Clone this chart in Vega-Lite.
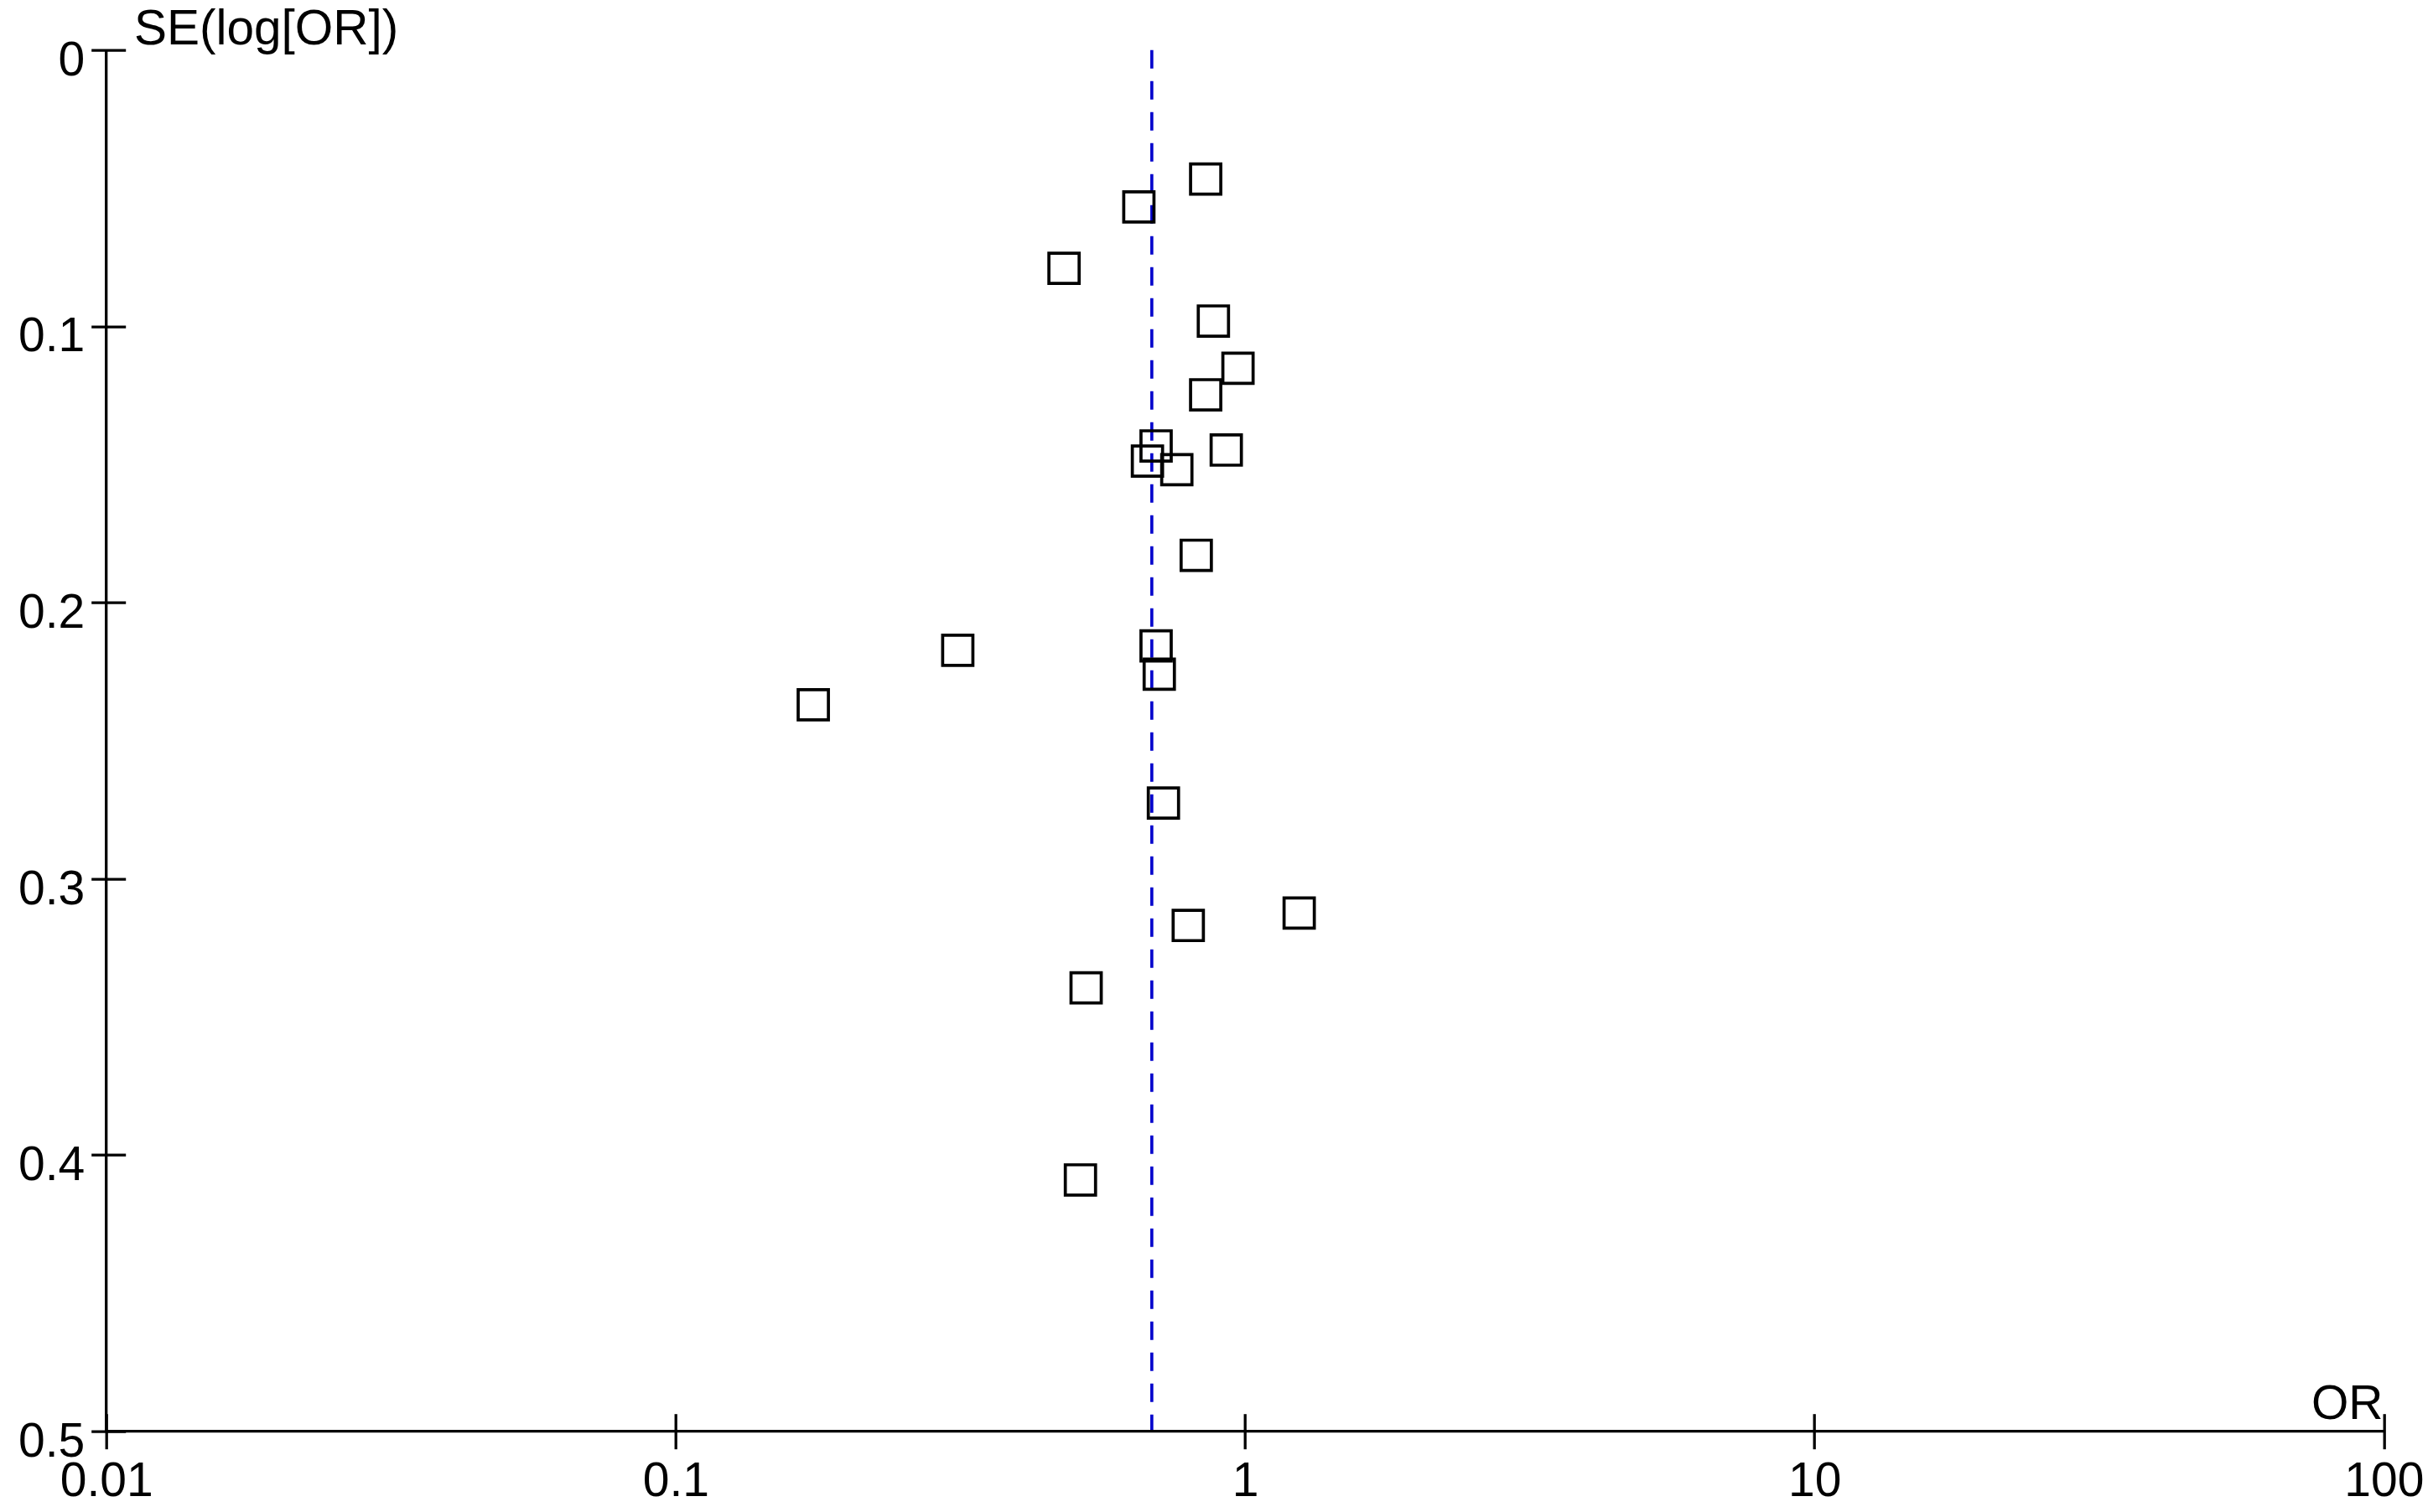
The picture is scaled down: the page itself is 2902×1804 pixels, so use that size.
{
  "$schema": "https://vega.github.io/schema/vega-lite/v6.json",
  "width": 2716.6,
  "height": 1648,
  "autosize": {"type": "none"},
  "padding": {"left": 126.7, "top": 59.7, "right": 58.7, "bottom": 96.3},
  "background": "white",
  "config": {"view": {"stroke": null}, "font": "Liberation Sans"},
  "datasets": {
    "studies": [
      {"OR": 0.853, "SE": 0.0467},
      {"OR": 0.651, "SE": 0.0568},
      {"OR": 0.481, "SE": 0.0790},
      {"OR": 0.880, "SE": 0.0981},
      {"OR": 0.972, "SE": 0.1152},
      {"OR": 0.853, "SE": 0.1248},
      {"OR": 0.698, "SE": 0.1433},
      {"OR": 0.674, "SE": 0.1488},
      {"OR": 0.759, "SE": 0.1519},
      {"OR": 0.927, "SE": 0.1448},
      {"OR": 0.821, "SE": 0.1829},
      {"OR": 0.313, "SE": 0.2173},
      {"OR": 0.698, "SE": 0.2157},
      {"OR": 0.707, "SE": 0.2259},
      {"OR": 0.1745, "SE": 0.2370},
      {"OR": 0.719, "SE": 0.2726},
      {"OR": 1.245, "SE": 0.3124},
      {"OR": 0.795, "SE": 0.3169},
      {"OR": 0.526, "SE": 0.3395},
      {"OR": 0.514, "SE": 0.4090}
    ],
    "pooled": [{"OR": 0.686}]
  },
  "layer": [
    {
      "data": {"name": "pooled"},
      "mark": {"type": "rule", "color": "#0000CC", "strokeWidth": 3.6, "strokeDash": [22, 15]},
      "encoding": {
        "x": {"field": "OR", "type": "quantitative", "scale": {"type": "log", "domain": [0.01, 100], "nice": false}}
      }
    },
    {
      "data": {"name": "studies"},
      "mark": {"type": "point", "shape": "square", "filled": false, "color": "black", "strokeWidth": 3.7, "size": 1300, "opacity": 1},
      "encoding": {
        "x": {
          "field": "OR", "type": "quantitative",
          "scale": {"type": "log", "domain": [0.01, 100], "nice": false},
          "axis": {
            "values": [0.01, 0.1, 1, 10, 100], "format": "~g",
            "offset": -21, "tickSize": 42, "tickWidth": 3.3, "tickColor": "black",
            "domain": false, "grid": false,
            "labelFontSize": 57, "labelColor": "black", "labelPadding": 10.3, "labelFont": "Liberation Sans",
            "labelFlush": false, "labelOverlap": false,
            "title": "OR", "titleFontSize": 57, "titleFontWeight": "normal", "titleColor": "black", "titleFont": "Liberation Sans",
            "titleX": 2715.3, "titleY": 5.3, "titleAlign": "right", "titleBaseline": "alphabetic", "titleAngle": 0
          }
        },
        "y": {
          "field": "SE", "type": "quantitative",
          "scale": {"domain": [0, 0.5], "reverse": true, "nice": false, "zero": false},
          "axis": {
            "values": [0, 0.1, 0.2, 0.3, 0.4, 0.5], "format": "~g",
            "offset": -23, "tickSize": 41, "tickWidth": 3.3, "tickColor": "black",
            "domain": false, "grid": false,
            "labelFontSize": 57, "labelColor": "black", "labelPadding": 8, "labelFont": "Liberation Sans",
            "labelBaseline": "alphabetic", "labelOffset": 29.5,
            "labelFlush": false, "labelOverlap": false,
            "title": "SE(log[OR])", "titleFontSize": 58.5, "titleFontWeight": "normal", "titleColor": "black", "titleFont": "Liberation Sans",
            "titleX": 9.8, "titleY": -7.7, "titleAlign": "left", "titleBaseline": "alphabetic", "titleAngle": 0
          }
        }
      }
    },
    {
      "data": {"values": [{}]},
      "mark": {"type": "rule", "color": "black", "strokeWidth": 3.3},
      "encoding": {"y": {"datum": 0.5}}
    },
    {
      "data": {"values": [{}]},
      "mark": {"type": "rule", "color": "black", "strokeWidth": 3.3},
      "encoding": {"x": {"datum": 0.01}}
    }
  ]
}
